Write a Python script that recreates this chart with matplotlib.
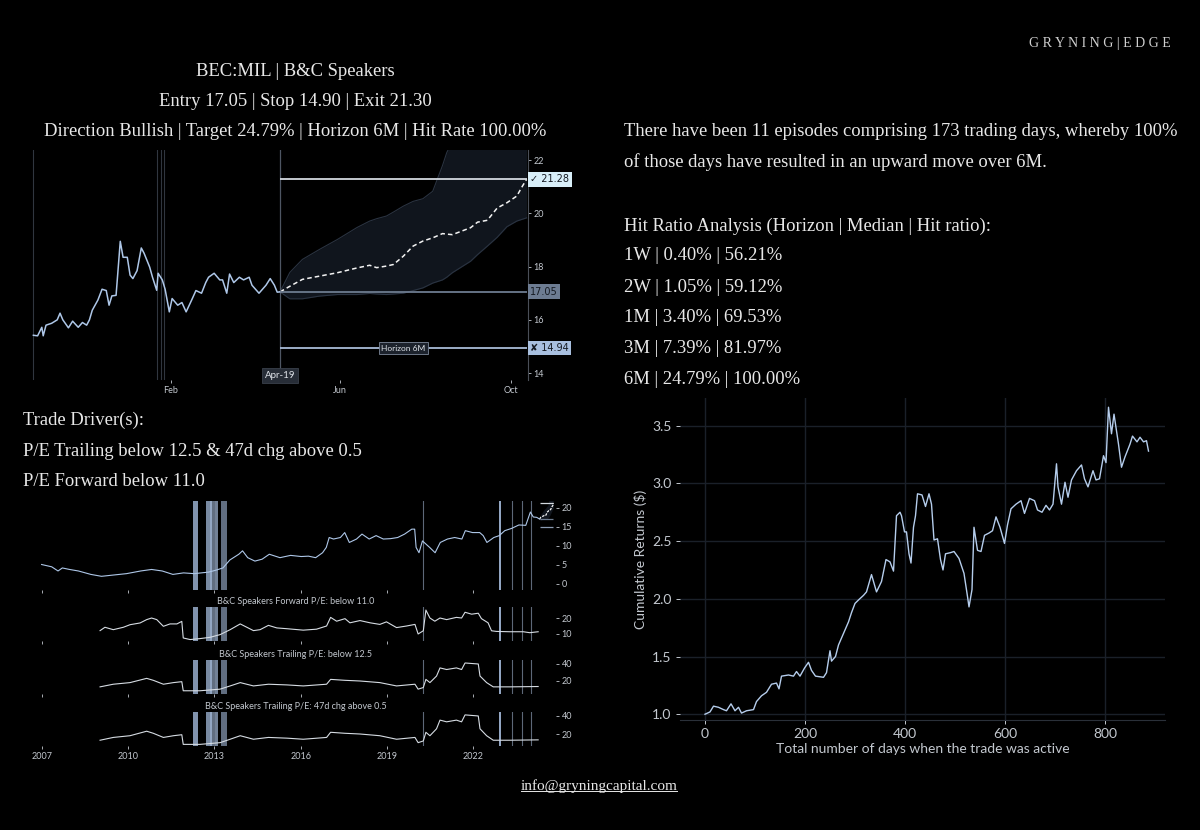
# BEC:MIL trade sheet - dark layout, four charts + text

import numpy as np
import pandas as pd
import matplotlib
matplotlib.use("Agg")
import matplotlib.pyplot as plt
import matplotlib.dates as mdates
from matplotlib.lines import Line2D

# ============================================================
# 1. DATA
# ============================================================

ticker = "BEC:MIL"
name = "B&C Speakers"
entry_lvl, stop_lvl, exit_lvl = 17.05, 14.90, 21.30
target_lbl, entry_lbl, stop_lbl = 21.28, 17.05, 14.94
direction, target, horizon, hit_rate = "Bullish", "24.79%", "6M", "100.00%"
n_episodes, n_days = 11, 173

hr_horizons = ["1W", "2W", "1M", "3M", "6M"]
hr_medians = ["0.40%", "1.05%", "3.40%", "7.39%", "24.79%"]
hr_ratios = ["56.21%", "59.12%", "69.53%", "81.97%", "100.00%"]

drivers = ["P/E Trailing below 12.5 & 47d chg above 0.5", "P/E Forward below 11.0"]

# ---- top chart: recent price ----
price_dates = ["2023-10-26", "2023-10-29", "2023-11-01", "2023-11-02", "2023-11-04", "2023-11-08",
               "2023-11-12", "2023-11-14", "2023-11-16", "2023-11-20", "2023-11-23", "2023-11-27",
               "2023-11-30", "2023-12-03", "2023-12-05", "2023-12-07", "2023-12-11", "2023-12-14",
               "2023-12-17", "2023-12-19", "2023-12-21", "2023-12-24", "2023-12-27", "2023-12-29",
               "2024-01-01", "2024-01-03", "2024-01-05", "2024-01-08", "2024-01-11", "2024-01-13",
               "2024-01-17", "2024-01-19", "2024-01-22", "2024-01-23", "2024-01-26", "2024-01-28",
               "2024-01-31", "2024-02-02", "2024-02-06", "2024-02-09", "2024-02-12", "2024-02-16",
               "2024-02-19", "2024-02-23", "2024-02-26", "2024-02-28", "2024-03-03", "2024-03-07",
               "2024-03-09", "2024-03-12", "2024-03-14", "2024-03-17", "2024-03-21", "2024-03-24",
               "2024-03-28", "2024-03-30", "2024-04-04", "2024-04-09", "2024-04-12", "2024-04-15",
               "2024-04-17", "2024-04-19"]
price_vals = [15.42, 15.4, 15.72, 15.4, 15.8, 15.87, 16.0, 16.25, 16.0, 15.7, 15.95, 15.72,
              15.9, 15.8, 16.0, 16.36, 16.74, 17.15, 17.1, 16.55, 16.9, 16.92, 18.95, 18.35,
              18.35, 17.68, 17.55, 17.85, 18.7, 18.5, 17.98, 17.6, 17.11, 17.75, 17.5, 17.15,
              16.3, 16.8, 16.55, 16.65, 16.3, 16.75, 17.1, 17.0, 17.4, 17.6, 17.75, 17.5,
              17.5, 17.0, 17.72, 17.4, 17.6, 17.5, 17.6, 17.3, 17.0, 17.3, 17.55, 17.3,
              17.04, 17.05]
signal_dates = ["2023-10-26", "2024-01-22", "2024-01-25", "2024-01-27"]
entry_date = "2024-04-19"
horizon_lbl_date = "2024-07-16"

# ---- forecast cone ----
fc_dates = ["2024-04-19", "2024-04-26", "2024-05-05", "2024-05-17", "2024-05-30", "2024-06-13",
            "2024-06-22", "2024-06-27", "2024-07-04", "2024-07-09", "2024-07-16", "2024-07-23",
            "2024-07-30", "2024-08-06", "2024-08-13", "2024-08-16", "2024-08-20", "2024-09-02",
            "2024-09-07", "2024-09-14", "2024-09-21", "2024-09-28", "2024-10-05", "2024-10-09",
            "2024-10-12"]
fc_median = [17.05, 17.26, 17.52, 17.64, 17.77, 17.95, 18.05, 17.96, 18.02, 18.08, 18.39, 18.77,
             18.96, 19.08, 19.24, 19.22, 19.2, 19.46, 19.67, 19.74, 20.2, 20.4, 20.65, 21.02, 21.28]
fc_upper = [17.05, 17.78, 18.27, 18.64, 19.02, 19.47, 19.71, 19.8, 19.9, 20.05, 20.27, 20.45,
            20.55, 20.83, 21.8, 22.28, 22.7, 23.2, 23.4, 23.6, 23.8, 24.0, 24.2, 24.3, 24.4]
fc_lower = [17.05, 16.79, 16.79, 16.89, 16.95, 16.95, 16.99, 16.97, 16.95, 16.97, 17.0, 17.1,
            17.2, 17.38, 17.5, 17.6, 17.77, 18.2, 18.45, 18.77, 19.1, 19.5, 19.71, 19.78, 19.83]

# ---- long history (decimal years) ----
hist_years = [2007.0, 2007.35, 2007.57, 2007.72, 2007.97, 2008.28, 2008.71, 2009.08, 2009.45, 2009.95,
              2010.44, 2010.82, 2011.19, 2011.56, 2011.93, 2012.30, 2012.80, 2013.05, 2013.30, 2013.54,
              2013.85, 2013.98, 2014.16, 2014.41, 2014.66, 2014.91, 2015.28, 2015.65, 2016.02, 2016.27,
              2016.52, 2016.76, 2016.89, 2016.99, 2017.14, 2017.38, 2017.53, 2017.69, 2017.94, 2018.13,
              2018.38, 2018.62, 2018.87, 2019.12, 2019.37, 2019.61, 2019.86, 2019.96, 2020.01, 2020.11,
              2020.23, 2020.48, 2020.67, 2020.85, 2021.10, 2021.35, 2021.60, 2021.72, 2021.97, 2022.22,
              2022.34, 2022.47, 2022.71, 2022.90, 2023.09, 2023.33, 2023.58, 2023.82, 2023.98, 2024.08,
              2024.20, 2024.30]
hist_price = [5.1, 4.5, 3.4, 4.2, 3.8, 3.4, 2.5, 2.0, 2.3, 2.7,
              3.4, 3.8, 3.4, 2.5, 2.9, 2.7, 3.1, 3.6, 4.2, 6.3,
              7.8, 8.7, 6.9, 6.0, 6.5, 7.8, 6.9, 7.5, 7.2, 7.3,
              6.9, 8.2, 9.6, 12.2, 11.8, 12.2, 13.5, 10.9, 11.8, 13.1,
              11.8, 12.7, 11.8, 11.9, 12.2, 13.1, 14.4, 14.4, 9.6, 8.2,
              11.3, 9.6, 8.2, 10.9, 11.8, 12.2, 11.8, 14.0, 13.5, 13.5,
              12.7, 10.9, 12.2, 12.7, 14.0, 14.6, 15.5, 15.4, 18.9, 17.6,
              17.5, 17.05]

fwd_years = [2009.03, 2009.20, 2009.49, 2009.84, 2010.07, 2010.42, 2010.65, 2010.82, 2011.0, 2011.23,
             2011.46, 2011.70, 2011.87, 2011.92, 2012.16, 2012.50, 2012.85, 2013.2, 2013.55, 2013.90,
             2014.13, 2014.36, 2014.59, 2014.88, 2015.17, 2015.52, 2016.09, 2016.55, 2016.90, 2017.04,
             2017.25, 2017.54, 2017.71, 2018.06, 2018.41, 2018.75, 2018.98, 2019.33, 2019.68, 2019.97,
             2020.08, 2020.26, 2020.35, 2020.49, 2020.66, 2020.84, 2021.07, 2021.41, 2021.59, 2021.71,
             2021.94, 2022.17, 2022.28, 2022.51, 2022.63, 2022.80, 2023.27, 2023.73, 2023.96, 2024.25]
fwd_pe = [12.1, 14.2, 12.7, 14.2, 15.8, 16.9, 19.0, 20.0, 19.0, 14.8,
          16.3, 16.3, 17.9, 7.5, 6.5, 7.1, 7.9, 9.6, 12.7, 16.3,
          14.2, 12.1, 12.7, 15.4, 13.8, 13.3, 12.4, 13.0, 15.0, 20.4,
          18.0, 19.6, 17.0, 18.4, 17.0, 16.0, 17.6, 14.0, 15.0, 16.0,
          10.0, 12.0, 25.0, 20.0, 18.0, 20.0, 19.0, 20.4, 20.0, 23.6,
          22.4, 23.0, 19.6, 17.0, 12.0, 11.6, 11.4, 11.4, 10.8, 11.4]

trl_years = [2009.03, 2009.49, 2010.07, 2010.65, 2010.88, 2011.23, 2011.58, 2011.87, 2011.92, 2012.50,
             2013.2, 2013.55, 2013.90, 2014.36, 2014.88, 2015.52, 2016.09, 2016.90, 2017.04, 2017.54,
             2018.06, 2018.75, 2019.33, 2019.97, 2020.08, 2020.26, 2020.35, 2020.49, 2020.72, 2020.84,
             2021.07, 2021.41, 2021.59, 2021.71, 2022.17, 2022.23, 2022.46, 2022.69, 2023.27, 2024.25]
trl_pe = [13.1, 16.2, 18.1, 23.1, 20.8, 16.2, 18.1, 19.2, 8.5, 8.5,
          10.4, 14.2, 18.1, 14.2, 16.2, 15.4, 14.2, 16.2, 21.9, 20.8,
          20.0, 18.1, 14.2, 16.2, 10.4, 12.3, 21.9, 18.1, 25.8, 35.4,
          33.5, 35.4, 33.5, 41.2, 40.0, 25.8, 18.1, 13.1, 13.1, 13.5]

# signal episodes: wide spans and single-day lines
ep_start = [2012.27, 2012.70, 2012.84, 2012.93, 2013.02, 2013.23]
ep_end = [2012.44, 2012.84, 2012.93, 2013.01, 2013.14, 2013.43]
ep_shade = [0.8, 0.75, 0.9, 0.6, 0.7, 0.6]
ep_lines = [2020.26, 2022.92, 2023.33, 2023.68, 2024.00]

# ---- cumulative returns ----
cum_days = [0, 10, 17, 27, 37, 43, 52, 60, 67, 73, 83, 97, 103, 113, 123, 133, 143, 148, 153, 167,
            177, 183, 190, 199, 207, 213, 221, 237, 243, 250, 253, 261, 267, 277, 287, 293, 300, 307,
            317, 323, 333, 343, 353, 362, 370, 377, 383, 390, 393, 399, 403, 408, 412, 417, 421, 425,
            434, 441, 448, 453, 458, 465, 471, 476, 481, 491, 498, 508, 518, 525, 528, 534, 538, 545,
            552, 559, 568, 575, 582, 590, 599, 605, 612, 622, 632, 639, 649, 659, 665, 674, 682, 689,
            696, 703, 706, 713, 720, 726, 733, 743, 753, 759, 766, 776, 782, 789, 797, 802, 807, 813,
            818, 827, 833, 840, 850, 855, 864, 870, 877, 883, 887]
cum_vals = [1.0, 1.02, 1.07, 1.06, 1.04, 1.03, 1.09, 1.03, 1.06, 1.01, 1.03, 1.04, 1.11, 1.16, 1.19,
            1.26, 1.27, 1.22, 1.33, 1.34, 1.33, 1.37, 1.33, 1.40, 1.45, 1.38, 1.33, 1.32, 1.36, 1.55,
            1.46, 1.50, 1.60, 1.70, 1.80, 1.88, 1.96, 1.99, 2.03, 2.06, 2.21, 2.06, 2.15, 2.34, 2.32,
            2.24, 2.72, 2.75, 2.72, 2.58, 2.58, 2.39, 2.31, 2.62, 2.72, 2.91, 2.90, 2.80, 2.91, 2.82,
            2.51, 2.52, 2.34, 2.25, 2.39, 2.40, 2.41, 2.35, 2.22, 2.02, 1.93, 2.08, 2.62, 2.42, 2.41,
            2.55, 2.57, 2.59, 2.71, 2.62, 2.48, 2.64, 2.78, 2.82, 2.85, 2.74, 2.87, 2.85, 2.77, 2.75,
            2.81, 2.77, 2.82, 3.17, 2.97, 2.82, 3.01, 2.88, 3.03, 3.11, 3.16, 3.04, 2.97, 3.11, 3.03,
            3.04, 3.24, 3.18, 3.66, 3.43, 3.60, 3.34, 3.14, 3.23, 3.34, 3.41, 3.36, 3.40, 3.36, 3.37,
            3.28]

# ============================================================
# 2. STYLE
# ============================================================

BG = "#000000"
TXT = "#e8e8e8"
TICK = "#c3c8cf"
LINE = "#aec7e8"
SERIF = "Liberation Serif"
SANS = ["Lato", "DejaVu Sans"]
W, H = 1200, 830

plt.rcParams["font.family"] = SANS


def fbox(x0, y_top, x1, y_bot):
    # pixel box -> figure fraction rect
    return [x0 / W, 1 - y_bot / H, (x1 - x0) / W, (y_bot - y_top) / H]


def dec_year(dates):
    d = pd.to_datetime(dates)
    return np.array(d.year + (d.dayofyear - 1) / 366.0)


def clean(ax):
    ax.set_facecolor(BG)
    for s in ax.spines.values():
        s.set_visible(False)


fig = plt.figure(figsize=(W / 100, H / 100), dpi=100, facecolor=BG)

# ============================================================
# 3. TOP-LEFT: PRICE + FORECAST CONE
# ============================================================

ax = fig.add_axes(fbox(32, 150, 528, 380))
clean(ax)
pd_px = pd.to_datetime(price_dates)
pd_fc = pd.to_datetime(fc_dates)
e_d = pd.Timestamp(entry_date)

ax.fill_between(pd_fc, fc_lower, fc_upper, color="#10151d", lw=0)
ax.plot(pd_fc, fc_upper, color="#2a3341", lw=0.8)
ax.plot(pd_fc, fc_lower, color="#2a3341", lw=0.8)
ax.plot(pd_fc, fc_median, color="#f2f2f2", lw=1.1, ls=(0, (3, 2)))
for d in signal_dates:
    ax.axvline(pd.Timestamp(d), color="#30363f", lw=0.8)
ax.axvline(e_d, color="#4e5663", lw=0.9)
ax.plot(pd_px, price_vals, color=LINE, lw=1.1)

ax.hlines(target_lbl, e_d, pd_fc[-1], color="#d3d9df", lw=1.3)
ax.hlines(entry_lbl, e_d, pd_fc[-1], color="#6d7b8f", lw=1.3)
ax.hlines(stop_lbl, e_d, pd_fc[-1], color="#a9bcd8", lw=1.3)

ax.set_xlim(pd.Timestamp("2023-10-25"), pd.Timestamp("2024-10-13"))
ax.set_ylim(13.74, 22.38)
ax.spines["right"].set_visible(True)
ax.spines["right"].set_color("#4a4f58")
ax.yaxis.tick_right()
ax.set_yticks([14, 16, 18, 20, 22])
ax.xaxis.set_major_locator(mdates.MonthLocator(bymonth=[2, 6, 10]))
ax.xaxis.set_major_formatter(mdates.DateFormatter("%b"))
ax.tick_params(colors=TICK, labelsize=6.5, length=2, width=0.6, pad=2)

for val, txt, fc in [(target_lbl, "\u2713 %.2f" % target_lbl, "#d8eef8"),
                     (entry_lbl, "%.2f" % entry_lbl, "#6d7c92"),
                     (stop_lbl, "\u2718 %.2f" % stop_lbl, "#a8bfdf")]:
    ax.annotate(txt, xy=(1, val), xycoords=("axes fraction", "data"), xytext=(1.5, 0),
                textcoords="offset points", ha="left", va="center", fontsize=7,
                color="#151a22", family=["DejaVu Sans"],
                bbox=dict(boxstyle="square,pad=0.25", fc=fc, ec="none"))

ax.text(pd.Timestamp(horizon_lbl_date), stop_lbl, "Horizon " + horizon, ha="center", va="center",
        fontsize=6, color="#dde2e8",
        bbox=dict(boxstyle="square,pad=0.3", fc="#1c222c", ec="#7c889a", lw=0.6))
ax.annotate(e_d.strftime("%b-%d"), xy=(e_d, 0), xycoords=("data", "axes fraction"), xytext=(0, 3),
            textcoords="offset points", ha="center", va="center", fontsize=7, color="#e0e4ea",
            bbox=dict(boxstyle="square,pad=0.3", fc="#272d37", ec="#3a414c", lw=0.6))

# ============================================================
# 4. BOTTOM-LEFT: HISTORY + DRIVERS
# ============================================================

fc_yr = dec_year(fc_dates)
e_yr = dec_year([entry_date])[0]
panels = [
    (fbox(35, 501, 556, 590), hist_years, hist_price, LINE, (-1.6, 21.8), [0, 5, 10, 15, 20], None),
    (fbox(35, 607, 556, 641), fwd_years, fwd_pe, "#d6dce3", (5.6, 26.9), [10, 20],
     name + " Forward P/E: below 11.0"),
    (fbox(35, 660, 556, 694), trl_years, trl_pe, "#d6dce3", (4.7, 44.7), [20, 40],
     name + " Trailing P/E: below 12.5"),
    (fbox(35, 712, 556, 746), trl_years, trl_pe, "#d6dce3", (6.7, 44.4), [20, 40],
     name + " Trailing P/E: 47d chg above 0.5"),
]

for i, (rect, xs, ys, col, ylim, yt, title) in enumerate(panels):
    a = fig.add_axes(rect)
    clean(a)
    for s, e, al in zip(ep_start, ep_end, ep_shade):
        a.axvspan(s, e, color="#a3b9d9", alpha=al, lw=0)
    for j, x in enumerate(ep_lines):
        a.axvline(x, color="#a3b9d9" if j == 1 else "#5d6878", lw=1.3 if j == 1 else 0.8)
    if i == 0:
        a.fill_between(fc_yr, fc_lower, fc_upper, color="#10151d", lw=0)
        a.hlines(target_lbl, e_yr, fc_yr[-1], color="#d3d9df", lw=0.9)
        a.hlines(entry_lbl, e_yr, fc_yr[-1], color="#6d7b8f", lw=0.9)
        a.hlines(stop_lbl, e_yr, fc_yr[-1], color="#8a9bb3", lw=0.9)
        a.plot(fc_yr, fc_median, color="#f2f2f2", lw=0.9, ls=(0, (2, 1)))
    a.plot(xs, ys, color=col, lw=0.8)
    a.set_xlim(2006.77, 2024.87)
    a.set_ylim(*ylim)
    a.yaxis.tick_right()
    a.set_yticks(yt)
    a.set_xticks([2007, 2010, 2013, 2016, 2019, 2022])
    a.tick_params(colors=TICK, labelsize=6.5, length=2, width=0.6, pad=2)
    if i < 3:
        a.tick_params(axis="x", labelbottom=False)
    if title:
        a.set_title(title, fontsize=6.5, color=TICK, pad=2.5)

# ============================================================
# 5. BOTTOM-RIGHT: CUMULATIVE RETURNS
# ============================================================

ax2 = fig.add_axes(fbox(680, 398, 1165, 720))
clean(ax2)
ax2.spines["bottom"].set_visible(True)
ax2.spines["bottom"].set_color("#2a3039")
ax2.grid(True, color="#1a2029", lw=1)
ax2.set_axisbelow(True)
ax2.plot(cum_days, cum_vals, color="#b5cdec", lw=1.0)
ax2.set_xlim(-50, 920)
ax2.set_ylim(0.95, 3.74)
ax2.set_xticks([0, 200, 400, 600, 800])
ax2.set_yticks([1.0, 1.5, 2.0, 2.5, 3.0, 3.5])
ax2.yaxis.set_major_formatter("{x:.1f}")
ax2.tick_params(colors=TICK, labelsize=10, length=3, width=0.7, pad=3)
ax2.set_xlabel("Total number of days when the trade was active", fontsize=10, color=TICK, labelpad=2)
ax2.set_ylabel("Cumulative Returns ($)", fontsize=10, color=TICK, labelpad=4)

# ============================================================
# 6. TEXT
# ============================================================

def ftext(x, y, s, **kw):
    kw.setdefault("fontsize", 13.4)
    kw.setdefault("color", TXT)
    kw.setdefault("family", SERIF)
    kw.setdefault("va", "center")
    return fig.text(x / W, 1 - y / H, s, **kw)


ftext(1100, 43, "G R Y N I N G | E D G E", fontsize=10, ha="center", color="#d0d0d0")

ftext(295, 72, "%s | %s" % (ticker, name), ha="center")
ftext(295, 102, "Entry %.2f | Stop %.2f | Exit %.2f" % (entry_lvl, stop_lvl, exit_lvl), ha="center")
ftext(295, 131, "Direction %s | Target %s | Horizon %s | Hit Rate %s"
      % (direction, target, horizon, hit_rate), ha="center")

right_lines = [
    "There have been %d episodes comprising %d trading days, whereby %d%%"
    % (n_episodes, n_days, float(hit_rate.rstrip("%"))),
    "of those days have resulted in an upward move over %s." % horizon,
    "",
    "Hit Ratio Analysis (Horizon | Median | Hit ratio):",
]
right_lines += ["%s | %s | %s" % r for r in zip(hr_horizons, hr_medians, hr_ratios)]
for ln, y in zip(right_lines, [131, 162, 194, 226, 256, 287, 317, 348, 379]):
    if ln:
        ftext(624, y, ln)

ftext(23, 420, "Trade Driver(s):")
for k, d in enumerate(drivers):
    ftext(23, 451 + 30 * k, d)

em = ftext(599, 786, "info@gryningcapital.com", fontsize=11, ha="center")
fig.canvas.draw()
bb = em.get_window_extent().transformed(fig.transFigure.inverted())
fig.add_artist(Line2D([bb.x0, bb.x1], [bb.y0 + 0.002, bb.y0 + 0.002], color=TXT, lw=0.7))

fig.savefig("out.png", dpi=100, facecolor=BG)
